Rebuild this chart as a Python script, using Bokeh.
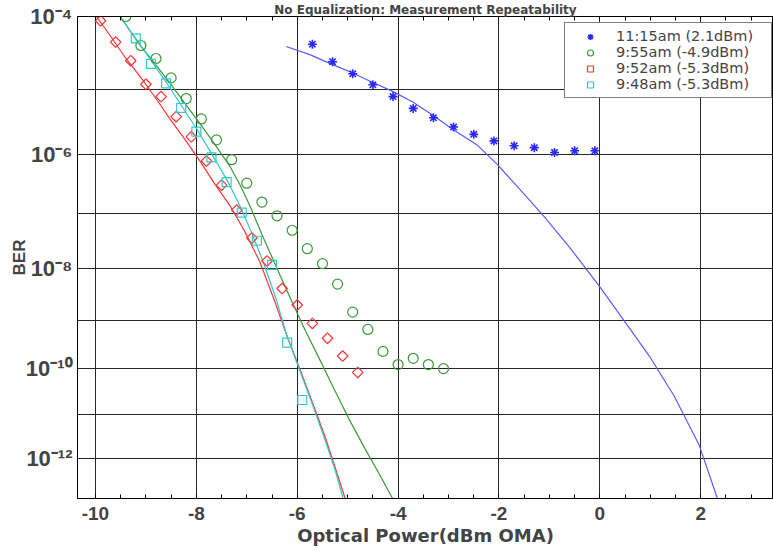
import math
from bokeh.plotting import figure
from bokeh.models import Range1d, FixedTicker, LinearAxis, Legend, LegendItem, Title
from bokeh.embed import file_html
from bokeh.resources import INLINE

# ---------------- data ----------------
title_text = "No Equalization: Measurement Repeatability"
x_label = "Optical Power(dBm OMA)"
y_label = "BER"

x_ticks = [-10, -8, -6, -4, -2, 0, 2]
x_tick_labels = ["-10", "-8", "-6", "-4", "-2", "0", "2"]
x_minor = [-10.0 + 0.5 * i for i in range(28)]
ber_major = [1e-4, 1e-6, 1e-8, 1e-10, 1e-12]
ber_major_labels = ["10⁻⁴", "10⁻⁶", "10⁻⁸", "10⁻¹⁰", "10⁻¹²"]
ber_minor = [1e-5, 1e-7, 1e-9, 1e-11]
x_limits = [-10.356, 3.442]
ber_limits = [1.1e-13, 1e-4]

names = ["11:15am (2.1dBm)", "9:55am (-4.9dBm)", "9:52am (-5.3dBm)", "9:48am (-5.3dBm)"]

# 11:15am measured points
m1115_x = [-5.7, -5.3, -4.9, -4.5, -4.1, -3.7, -3.3, -2.9, -2.5, -2.1, -1.7, -1.3, -0.9, -0.5, -0.1]
m1115_ber = [4.3e-5, 2.47e-5, 1.67e-5, 1.16e-5, 7.8e-6, 5.2e-6, 3.75e-6, 2.7e-6, 2.08e-6,
             1.64e-6, 1.37e-6, 1.28e-6, 1.07e-6, 1.14e-6, 1.14e-6]
# 9:55am measured points
m955_x = [-9.4, -9.1, -8.8, -8.5, -8.2, -7.9, -7.6, -7.3, -7.0, -6.7, -6.4, -6.1, -5.8, -5.5,
          -5.2, -4.9, -4.6, -4.3, -4.0, -3.7, -3.4, -3.1]
m955_ber = [1.0e-4, 4.13e-5, 2.74e-5, 1.46e-5, 7.3e-6, 3.6e-6, 1.7e-6, 8.2e-7, 3.35e-7, 1.6e-7,
            9.2e-8, 5.1e-8, 2.36e-8, 1.25e-8, 5.1e-9, 1.45e-9, 6.5e-10, 2.3e-10, 1.22e-10,
            1.65e-10, 1.22e-10, 1.0e-10]
# 9:52am measured points
m952_x = [-9.9, -9.6, -9.3, -9.0, -8.7, -8.4, -8.1, -7.8, -7.5, -7.2, -6.9, -6.6, -6.3, -6.0,
          -5.7, -5.4, -5.1, -4.8]
m952_ber = [8.8e-5, 4.6e-5, 2.55e-5, 1.18e-5, 7.8e-6, 3.9e-6, 1.9e-6, 7.8e-7, 3.1e-7, 1.16e-7,
            3.7e-8, 1.4e-8, 4.2e-9, 2.0e-9, 8.6e-10, 4.3e-10, 1.84e-10, 8.3e-11]
# 9:48am measured points
m948_x = [-9.2, -8.9, -8.6, -8.3, -8.0, -7.7, -7.4, -7.1, -6.8, -6.5, -6.2, -5.9]
m948_ber = [5.15e-5, 2.3e-5, 1.22e-5, 5.3e-6, 2.3e-6, 8.9e-7, 3.5e-7, 1.05e-7, 3.3e-8, 1.18e-8,
            3.5e-10, 2.1e-11]

# fitted curves
f1115_x = [-6.22, -5.75, -5.31, -4.90, -4.50, -4.11, -3.71, -3.31, -2.92, -2.44, -2.03, -1.59,
           -1.10, -0.60, 0.0, 0.49, 0.98, 1.47, 1.97, 2.33]
f1115_ber = [4.0e-5, 3.1e-5, 2.27e-5, 1.71e-5, 1.25e-5, 9.3e-6, 6.5e-6, 4.1e-6, 2.5e-6, 1.43e-6,
             6.8e-7, 2.65e-7, 8.8e-8, 2.5e-8, 4.5e-9, 9.5e-10, 1.84e-10, 2.6e-11, 2.0e-12, 1.1e-13]
f955_x = [-9.51, -9.13, -8.81, -8.50, -8.22, -7.92, -7.63, -7.33, -7.13, -6.93, -6.70, -6.44,
          -6.14, -5.85, -5.55, -5.25, -4.96, -4.66, -4.36, -4.11]
f955_ber = [1.0e-4, 4.27e-5, 2.27e-5, 1.17e-5, 6.1e-6, 3.0e-6, 1.43e-6, 6.3e-7, 3.1e-7, 1.32e-7,
            4.3e-8, 1.23e-8, 2.77e-9, 6.5e-10, 1.53e-10, 3.3e-11, 7.4e-12, 1.7e-12, 4.0e-13,
            1.1e-13]
f952_x = [-9.98, -9.70, -9.41, -9.11, -8.81, -8.52, -8.22, -7.92, -7.63, -7.33, -7.03, -6.74,
          -6.44, -6.20, -5.95, -5.71, -5.45, -5.25, -5.05]
f952_ber = [1.0e-4, 5.5e-5, 2.83e-5, 1.51e-5, 7.5e-6, 3.58e-6, 1.7e-6, 7.6e-7, 3.2e-7, 1.37e-7,
            4.7e-8, 1.34e-8, 2.3e-9, 4.7e-10, 1.0e-10, 2.0e-11, 3.2e-12, 6.2e-13, 1.1e-13]
f948_x = [-9.51, -9.19, -8.87, -8.58, -8.28, -7.98, -7.69, -7.39, -7.13, -6.89, -6.66, -6.42,
          -6.20, -5.95, -5.71, -5.45, -5.25, -5.09]
f948_ber = [1.0e-4, 5.0e-5, 2.42e-5, 1.21e-5, 5.5e-6, 2.43e-6, 1.0e-6, 3.77e-7, 1.34e-7, 4.3e-8,
            1.23e-8, 2.65e-9, 4.7e-10, 9.1e-11, 1.82e-11, 2.7e-12, 5.3e-13, 1.1e-13]


# ---------------- BER (Q-function) scale ----------------
def q_of(ber):
    lo, hi = 0.0, 12.0
    for _ in range(100):
        mid = 0.5 * (lo + hi)
        if 0.5 * math.erfc(mid / math.sqrt(2.0)) > ber:
            lo = mid
        else:
            hi = mid
    return 0.5 * (lo + hi)


def qs(vals):
    return [q_of(v) for v in vals]


AX_FONT = "'Liberation Sans Narrow', 'Liberation Sans', Arial, sans-serif"
GRID = "#262626"

p = figure(width=773, height=551, output_backend="svg", toolbar_location=None,
           x_range=Range1d(x_limits[0], x_limits[1]),
           y_range=Range1d(q_of(ber_limits[0]), q_of(ber_limits[1])),
           min_border_left=77, min_border_right=0, min_border_top=15, min_border_bottom=53,
           background_fill_color="white", border_fill_color="white")
p.outline_line_color = "black"
p.outline_line_width = 1

p.title = Title(text=title_text, align="center", text_font="DejaVu Sans",
                text_font_style="bold", text_font_size="12px", standoff=0, offset=0)

xt = FixedTicker(ticks=x_ticks, minor_ticks=x_minor)
p.xaxis.ticker = xt
p.xaxis.major_label_overrides = {t: s for t, s in zip(x_ticks, x_tick_labels)}
p.xaxis.axis_label = x_label
p.xaxis.axis_label_text_font = "DejaVu Sans"
p.xaxis.axis_label_text_font_style = "bold"
p.xaxis.axis_label_text_font_size = "18px"
p.xaxis.axis_label_standoff = 2
p.xaxis.major_label_text_font = AX_FONT
p.xaxis.major_label_text_font_style = "bold"
p.xaxis.major_label_text_font_size = "19px"
p.xaxis.major_label_standoff = 8
p.xaxis.major_tick_in = 0
p.xaxis.major_tick_out = 0
p.xaxis.minor_tick_in = 4
p.xaxis.minor_tick_out = 0
p.xaxis.axis_line_color = "black"
p.xaxis.minor_tick_line_color = "black"

top = LinearAxis(ticker=xt, major_label_text_font_size="1px", major_label_text_color=None,
                 major_label_standoff=0, major_tick_in=0, major_tick_out=0,
                 minor_tick_in=4, minor_tick_out=0,
                 axis_line_color="black", minor_tick_line_color="black")
p.add_layout(top, "above")

qmaj = qs(ber_major)
qmin = qs(ber_minor)
p.yaxis.ticker = FixedTicker(ticks=qmaj, minor_ticks=qmin)
p.yaxis.major_label_overrides = {q: lab for q, lab in zip(qmaj, ber_major_labels)}
p.yaxis.major_label_text_font = AX_FONT
p.yaxis.major_label_text_font_style = "bold"
p.yaxis.major_label_text_font_size = "22px"
p.yaxis.major_label_standoff = 5
p.yaxis.major_tick_in = 0
p.yaxis.major_tick_out = 0
p.yaxis.minor_tick_in = 0
p.yaxis.minor_tick_out = 0
p.yaxis.axis_line_color = "black"
p.yaxis.axis_label = y_label
p.yaxis.axis_label_text_font = AX_FONT
p.yaxis.axis_label_text_font_style = "bold"
p.yaxis.axis_label_text_font_size = "17px"
p.yaxis.axis_label_standoff = -6

p.xgrid.grid_line_color = GRID
p.xgrid.grid_line_width = 1
p.ygrid.grid_line_color = GRID
p.ygrid.grid_line_width = 1
p.ygrid.minor_grid_line_color = GRID
p.ygrid.minor_grid_line_width = 1

BLUE, GREEN, RED, CYAN = "#2828ff", "#3a9a3a", "#ff3434", "#30c8c8"

p.line(f1115_x, qs(f1115_ber), line_color="#5a5aff", line_width=1.2)
p.line(f955_x, qs(f955_ber), line_color=GREEN, line_width=1.2)
p.line(f952_x, qs(f952_ber), line_color=RED, line_width=1.2)
p.line(f948_x, qs(f948_ber), line_color=CYAN, line_width=1.2)

r1 = p.scatter(m1115_x, qs(m1115_ber), marker="asterisk", size=9, line_color=BLUE, line_width=1.6)
r2 = p.scatter(m955_x, qs(m955_ber), marker="circle", size=10, line_color=GREEN,
               fill_color=None, line_width=1.2)
r3 = p.scatter(m952_x, qs(m952_ber), marker="square", angle=math.pi / 4, size=7.5,
               line_color=RED, fill_color=None, line_width=1.2)
r4 = p.scatter(m948_x, qs(m948_ber), marker="square", size=9, line_color=CYAN,
               fill_color=None, line_width=1.2)

legend = Legend(items=[LegendItem(label=names[0], renderers=[r1]),
                       LegendItem(label=names[1], renderers=[r2]),
                       LegendItem(label=names[2], renderers=[r3]),
                       LegendItem(label=names[3], renderers=[r4])],
                location=(487, 400), margin=0, padding=5, spacing=0,
                glyph_width=40, glyph_height=15, label_height=15, label_width=150,
                label_standoff=6,
                label_text_font="DejaVu Sans", label_text_font_size="14.5px",
                border_line_color="black", border_line_width=1,
                background_fill_color="white", background_fill_alpha=1)
p.add_layout(legend)

open("out.html", "w").write(file_html(p, INLINE))
